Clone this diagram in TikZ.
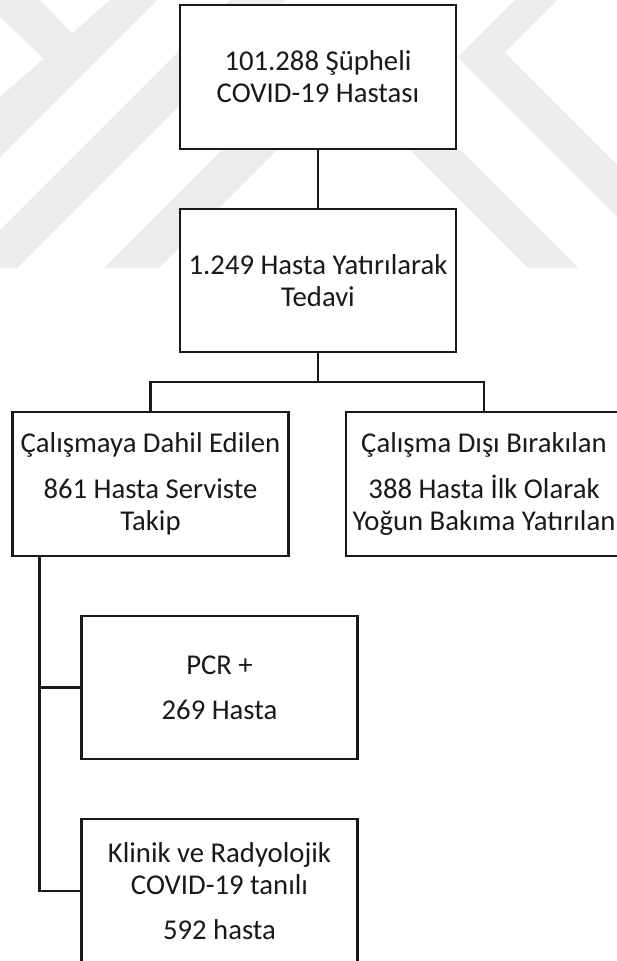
\documentclass[tikz,border=0pt]{standalone}
\usepackage{fontspec}
\setmainfont{Carlito}
\begin{document}
\begin{tikzpicture}[x=1pt,y=-1pt,
  box/.style={draw=black!90, line width=2.4pt, fill=white, minimum width=276pt, minimum height=143.5pt,
    inner sep=0pt, align=center, font=\fontsize{28.7}{32}\selectfont, text=black!90},
  wire/.style={draw=black!90, line width=2.4pt},
  wm/.style={fill=black!7, draw=none}]
\useasboundingbox (0,0) rectangle (617,961);
\clip (0,0) rectangle (617,961);
% faint watermark
\path[wm] (110,0) -- (157,0) -- (0,157) -- (0,97) -- cycle;
\path[wm] (0,0) -- (40,0) -- (89,51) -- (63,77) -- (0,17) -- cycle;
\path[wm] (230,0) -- (285,0) -- (17,268) -- (0,268) -- (0,230) -- cycle;
\path[wm] (104,268) -- (341,31) -- (578,268) -- (528,268) -- (343.5,83.5) -- (159,268) -- cycle;
\path[wm] (515,0) -- (457.5,57.5) -- (668,268) -- (720,268) -- (504.5,52.5) -- (557,0) -- cycle;
% boxes
\node[box] (b1) at (318,77) {101.288 Şüpheli\\COVID-19 Hastası};
\node[box] (b2) at (318,280.5) {1.249 Hasta Yatırılarak\\Tedavi};
\node[box] (b3) at (150.5,484) {Çalışmaya Dahil Edilen\\[14pt]861 Hasta Serviste\\Takip};
\node[box] (b4) at (484,484) {Çalışma Dışı Bırakılan\\[14pt]388 Hasta İlk Olarak\\Yoğun Bakıma Yatırılan};
\node[box] (b5) at (219.5,687.5) {PCR +\\[13pt]269 Hasta};
\node[box] (b6) at (219.5,890.75) {Klinik ve Radyolojik\\COVID-19 tanılı\\[13pt]592 hasta};
% connectors
\coordinate (j1) at (318,382);
\coordinate (t) at ([xshift=28pt]b3.south west);
\draw[wire] (b1.south) -- (b2.north);
\draw[wire] (b2.south) -- (j1);
\draw[wire] (b3.north) |- (j1) -| (b4.north);
\draw[wire] (t) |- (b6.west);
\draw[wire] (t |- b5.west) -- (b5.west);
\end{tikzpicture}
\end{document}
